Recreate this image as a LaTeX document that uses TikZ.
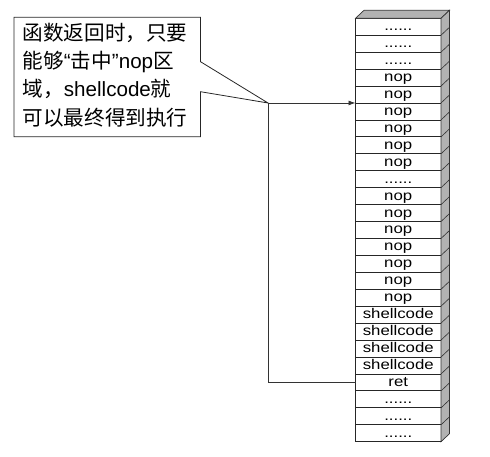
\documentclass[tikz,border=0pt]{standalone}
\usepackage{fontspec}
\setmainfont{Liberation Sans}
\newfontfamily\cjk{Noto Sans CJK SC}
\usetikzlibrary{arrows.meta,calc}
\newcommand\sixdots{......}
\tikzset{
  cell/.style={draw=black!85,line width=0.8pt,minimum width=85.5pt,minimum height=16.936pt,
    inner sep=0pt,outer sep=0pt,text height=10.5pt,text depth=2.5pt,
    font=\fontsize{14}{14}\selectfont},
  face/.style={draw=black!80,line width=0.7pt,fill=black!30},
  noteline/.style={anchor=base west,inner sep=0pt,font=\fontsize{20.6}{24}\selectfont},
  link/.style={draw=black!80,line width=0.8pt},
  calloutbox/.style={draw=black!85,line width=0.8pt,fill=white}
}
\begin{document}
\begin{tikzpicture}[x=1pt,y=-1pt]
\useasboundingbox (0,0) rectangle (490,457);
% stack cells
\foreach \t [count=\i] in {\sixdots,\sixdots,\sixdots,nop,nop,nop,nop,nop,nop,\sixdots,nop,nop,nop,nop,nop,nop,nop,shellcode,shellcode,shellcode,shellcode,ret,\sixdots,\sixdots,\sixdots}
  \node[cell] (c\i) at (398.25,{18.3+(\i-0.5)*16.936}) {\scalebox{1.2}[1]{\t}};
% 3D faces
\draw[face] (c1.north west) -- ++(8.5,-8) -- ($(c1.north east)+(8.5,-8)$) -- (c1.north east) -- cycle;
\draw[face] (c1.north east) -- ++(8.5,-8) -- ($(c25.south east)+(8.5,-8)$) -- (c25.south east) -- cycle;
\foreach \i in {1,...,24} \draw[draw=black!80,line width=0.6pt] (c\i.south east) -- ++(8.5,-8);
% connector
\coordinate (tip) at (268,{18.3+5*16.936});
\draw[link,-{Latex[length=7pt,width=5pt]}] (c22.west) -- (c22.west -| tip) -- (tip) -- (c5.south west);
% callout
\draw[calloutbox] (tip) -- (200.5,61.7) -- (200.5,17.3) -- (14,17.3) -- (14,136.7) -- (200.5,136.7) -- (200.5,91.7) -- cycle;
\node[noteline] (l1) at (22.5,40.2) {{\cjk 函数返回时，只要}};
\node[noteline] (l2) at (22.5,68.5) {{\cjk 能够}“{\cjk 击中}”nop{\cjk 区}};
\node[noteline] (l3) at (22.5,96.8) {{\cjk 域，}shellcode{\cjk 就}};
\node[noteline] (l4) at (22.5,125.1) {{\cjk 可以最终得到执行}};
\end{tikzpicture}
\end{document}
